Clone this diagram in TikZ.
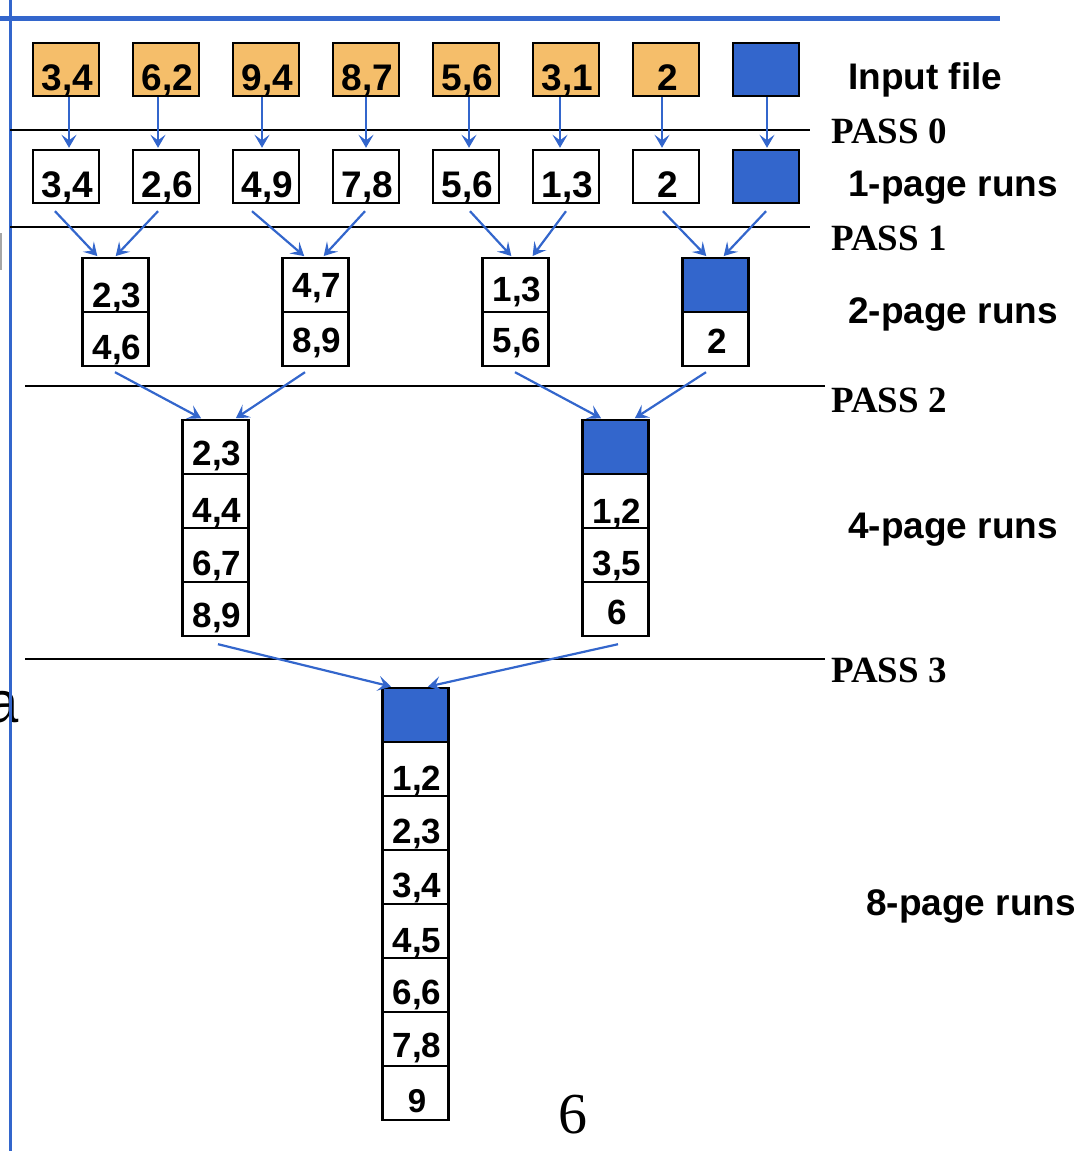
\documentclass[tikz,border=0pt]{standalone}
\usepackage{fontspec}
\setmainfont{Liberation Serif}
\setsansfont{Liberation Sans}
\usetikzlibrary{arrows.meta}
\definecolor{fblue}{HTML}{3366CC}
\definecolor{forange}{HTML}{F5BE6A}
\tikzset{
  cellbox/.style={draw=black, line width=2.4pt, minimum width=66pt, minimum height=53pt,
    inner sep=0pt, text height=41pt, text depth=0pt,
    font=\sffamily\bfseries\fontsize{37}{37}\selectfont,
    execute at begin node={\hspace*{3pt}}},
  stackcell/.style={cellbox, minimum height=54pt, font=\sffamily\bfseries\fontsize{35}{35}\selectfont},
  th/.style={text height=#1pt},
  inp/.style={cellbox, fill=forange},
  bluecell/.style={fill=fblue},
  arr/.style={draw=fblue, line width=2.2pt, shorten >=1pt,
    -{Stealth[length=13pt,width=15pt,inset=5.5pt]}},
  sepline/.style={draw=black, line width=2pt},
  passlab/.style={font=\rmfamily\bfseries\fontsize{37}{37}\selectfont, anchor=base west, inner sep=0pt},
  runlab/.style={font=\sffamily\bfseries\fontsize{37}{37}\selectfont, anchor=base west, inner sep=0pt}
}
\begin{document}
\begin{tikzpicture}[x=1pt,y=-1pt]
\useasboundingbox (0,0) rectangle (1079,1151);
% left fragments
\fill[gray!70] (0,233) rectangle (2,270);
\node[anchor=base east, inner sep=0pt, font=\sffamily\fontsize{58}{58}\selectfont] (fa) at (19,722) {a};
% frame lines
\draw[fblue, line width=3pt] (10,0) -- (10,1151);
\draw[fblue, line width=5pt] (0,18) -- (1000,18);
% separators
\draw[sepline] (10,130) -- (810,130);
\draw[sepline] (10,227) -- (810,227);
\draw[sepline] (25,386) -- (825,386);
\draw[sepline] (25,659) -- (825,659);
% pass labels
\node[passlab] (p0) at (831,143) {PASS 0};
\node[passlab] (p1) at (831,250) {PASS 1};
\node[passlab] (p2) at (831,412) {PASS 2};
\node[passlab] (p3) at (831,682) {PASS 3};
% run labels
\node[runlab] (l0) at (848,89) {Input file};
\node[runlab] (l1) at (848,196) {1-page runs};
\node[runlab] (l2) at (848,323) {2-page runs};
\node[runlab] (l4) at (848,538) {4-page runs};
\node[runlab] (l8) at (866,915) {8-page runs};
% input file
\node[inp] (i1) at (66,69.5) {3,4};
\node[inp] (i2) at (166,69.5) {6,2};
\node[inp] (i3) at (266,69.5) {9,4};
\node[inp] (i4) at (366,69.5) {8,7};
\node[inp] (i5) at (466,69.5) {5,6};
\node[inp] (i6) at (566,69.5) {3,1};
\node[inp] (i7) at (666,69.5) {2};
\node[cellbox, bluecell] (i8) at (766,69.5) {};
% 1-page runs
\node[cellbox] (r1) at (66,176.5) {3,4};
\node[cellbox] (r2) at (166,176.5) {2,6};
\node[cellbox] (r3) at (266,176.5) {4,9};
\node[cellbox] (r4) at (366,176.5) {7,8};
\node[cellbox] (r5) at (466,176.5) {5,6};
\node[cellbox] (r6) at (566,176.5) {1,3};
\node[cellbox] (r7) at (666,176.5) {2};
\node[cellbox, bluecell] (r8) at (766,176.5) {};
% pass 0 arrows
\draw[arr] ([xshift=3pt]i1.south) -- ([xshift=3pt]r1.north);
\draw[arr] ([xshift=-8pt]i2.south) -- ([xshift=-8pt]r2.north);
\draw[arr] ([xshift=-4pt]i3.south) -- ([xshift=-4pt]r3.north);
\draw[arr] (i4.south) -- (r4.north);
\draw[arr] ([xshift=3pt]i5.south) -- ([xshift=3pt]r5.north);
\draw[arr] ([xshift=-6pt]i6.south) -- ([xshift=-6pt]r6.north);
\draw[arr] ([xshift=-4pt]i7.south) -- ([xshift=-4pt]r7.north);
\draw[arr] ([xshift=1pt]i8.south) -- ([xshift=1pt]r8.north);
% 2-page runs
\node[stackcell, th=44] (a1) at (115.5,285) {2,3};
\node[stackcell, th=40] (a1b) at (115.5,339) {4,6};
\node[stackcell, th=24] (a2) at (315.5,285) {4,7};
\node[stackcell, th=26] (a2b) at (315.5,339) {8,9};
\node[stackcell, th=32] (a3) at (515.5,285) {1,3};
\node[stackcell, th=26] (a3b) at (515.5,339) {5,6};
\node[stackcell, bluecell] (a4) at (715.5,285) {};
\node[stackcell, th=28] (a4b) at (715.5,339) {2};
% pass 1 arrows
\draw[arr] ([xshift=-11pt,yshift=-7pt]r1.south) -- ([xshift=-17.5pt]a1.north);
\draw[arr] ([xshift=-8pt,yshift=-7pt]r2.south) -- ([xshift=-0.5pt]a1.north);
\draw[arr] ([xshift=-14pt,yshift=-7pt]r3.south) -- ([xshift=-10.5pt]a2.north);
\draw[arr] ([xshift=-1pt,yshift=-7pt]r4.south) -- ([xshift=7.5pt]a2.north);
\draw[arr] ([xshift=4pt,yshift=-7pt]r5.south) -- ([xshift=-3.5pt]a3.north);
\draw[arr] ([xshift=0pt,yshift=-7pt]r6.south) -- ([xshift=16.5pt]a3.north);
\draw[arr] ([xshift=-3pt,yshift=-7pt]r7.south) -- ([xshift=-8.5pt]a4.north);
\draw[arr] ([xshift=0pt,yshift=-7pt]r8.south) -- ([xshift=7.5pt]a4.north);
% 4-page runs
\node[stackcell, th=36] (b1) at (215.5,447) {2,3};
\node[stackcell, th=42] (b1b) at (215.5,501) {4,4};
\node[stackcell, th=40] (b1c) at (215.5,555) {6,7};
\node[stackcell, th=36] (b1d) at (215.5,609) {8,9};
\node[stackcell, bluecell] (b2) at (615.5,447) {};
\node[stackcell, th=44] (b2b) at (615.5,501) {1,2};
\node[stackcell, th=40] (b2c) at (615.5,555) {3,5};
\node[stackcell, th=30] (b2d) at (615.5,609) {6};
% pass 2 arrows
\draw[arr] ([xshift=-0.5pt,yshift=-5pt]a1b.south) -- ([xshift=-13.5pt]b1.north);
\draw[arr] ([xshift=-10.5pt,yshift=-5pt]a2b.south) -- ([xshift=19.5pt]b1.north);
\draw[arr] ([xshift=-0.5pt,yshift=-5pt]a3b.south) -- ([xshift=-13.5pt]b2.north);
\draw[arr] ([xshift=-9.5pt,yshift=-5pt]a4b.south) -- ([xshift=18.5pt]b2.north);
% 8-page runs
\node[stackcell, bluecell] (c1) at (415.5,715) {};
\node[stackcell, th=42] (c2) at (415.5,769) {1,2};
\node[stackcell, th=40] (c3) at (415.5,823) {2,3};
\node[stackcell, th=40] (c4) at (415.5,877) {3,4};
\node[stackcell, th=42] (c5) at (415.5,931) {4,5};
\node[stackcell, th=38] (c6) at (415.5,985) {6,6};
\node[stackcell, th=36] (c7) at (415.5,1039) {7,8};
\node[stackcell, th=38, font=\sffamily\bfseries\fontsize{33}{33}\selectfont] (c8) at (415.5,1093) {9};
% pass 3 arrows
\draw[arr] ([xshift=2.5pt,yshift=-7pt]b1d.south) -- ([xshift=-23.5pt]c1.north);
\draw[arr] ([xshift=2.5pt,yshift=-7pt]b2d.south) -- ([xshift=11.5pt]c1.north);
% page number
\node[anchor=base, inner sep=0pt, font=\rmfamily\fontsize{58}{58}\selectfont] (pn) at (573,1133) {6};
\end{tikzpicture}
\end{document}
